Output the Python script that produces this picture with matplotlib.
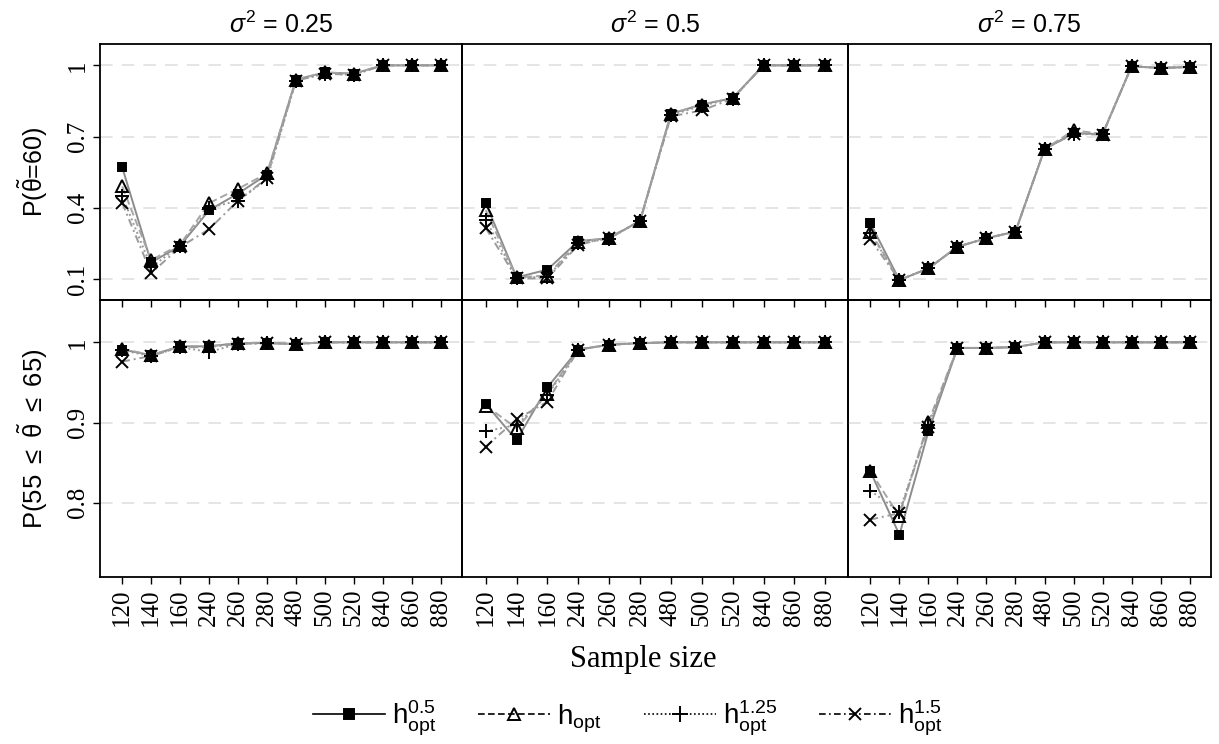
"""Coverage probabilities of the bandwidth estimators by sample size."""

import matplotlib
matplotlib.use("Agg")
import matplotlib.pyplot as plt
from matplotlib.lines import Line2D

plt.rcParams["mathtext.fontset"] = "custom"
plt.rcParams["mathtext.rm"] = "Liberation Sans"
plt.rcParams["mathtext.it"] = "Liberation Sans:italic"
plt.rcParams["mathtext.bf"] = "Liberation Sans:bold"

sample_sizes = ["120", "140", "160", "240", "260", "280",
                "480", "500", "520", "840", "860", "880"]
sigma_labels = ["0.25", "0.5", "0.75"]
series_labels = [r"$\mathrm{h}_{\mathrm{opt}}^{0.5}$", r"$\mathrm{h}_{\mathrm{opt}}$",
                 r"$\mathrm{h}_{\mathrm{opt}}^{1.25}$", r"$\mathrm{h}_{\mathrm{opt}}^{1.5}$"]

# P(theta = 60), rows: h^0.5, h, h^1.25, h^1.5
eq60_s025 = [
    [0.57, 0.17, 0.24, 0.39, 0.46, 0.54, 0.94, 0.97, 0.965, 1.0, 1.0, 1.0],
    [0.49, 0.18, 0.245, 0.42, 0.48, 0.545, 0.94, 0.97, 0.965, 1.0, 1.0, 1.0],
    [0.45, 0.15, 0.24, 0.40, 0.43, 0.52, 0.935, 0.965, 0.96, 1.0, 1.0, 1.0],
    [0.42, 0.125, 0.235, 0.31, 0.43, 0.525, 0.935, 0.965, 0.96, 1.0, 1.0, 1.0],
]
eq60_s05 = [
    [0.42, 0.107, 0.14, 0.26, 0.272, 0.345, 0.796, 0.835, 0.862, 1.0, 1.0, 1.0],
    [0.39, 0.107, 0.115, 0.258, 0.272, 0.345, 0.796, 0.835, 0.862, 1.0, 1.0, 1.0],
    [0.35, 0.105, 0.11, 0.25, 0.27, 0.345, 0.79, 0.83, 0.86, 1.0, 1.0, 1.0],
    [0.315, 0.103, 0.103, 0.244, 0.275, 0.345, 0.785, 0.81, 0.86, 1.0, 1.0, 1.0],
]
eq60_s075 = [
    [0.335, 0.096, 0.145, 0.236, 0.272, 0.30, 0.647, 0.715, 0.71, 0.996, 0.989, 0.993],
    [0.30, 0.096, 0.145, 0.236, 0.272, 0.30, 0.647, 0.726, 0.712, 0.996, 0.989, 0.993],
    [0.293, 0.096, 0.145, 0.236, 0.272, 0.30, 0.647, 0.712, 0.71, 0.996, 0.989, 0.993],
    [0.267, 0.096, 0.145, 0.236, 0.272, 0.30, 0.647, 0.712, 0.708, 0.996, 0.989, 0.993],
]

# P(55 <= theta <= 65)
rng_s025 = [
    [0.991, 0.984, 0.995, 0.995, 0.999, 0.999, 0.998, 1.0, 1.0, 1.0, 1.0, 1.0],
    [0.992, 0.984, 0.995, 0.995, 0.999, 0.999, 0.998, 1.0, 1.0, 1.0, 1.0, 1.0],
    [0.990, 0.983, 0.994, 0.988, 0.998, 0.999, 0.998, 1.0, 1.0, 1.0, 1.0, 1.0],
    [0.976, 0.983, 0.994, 0.994, 0.998, 0.999, 0.998, 1.0, 1.0, 1.0, 1.0, 1.0],
]
rng_s05 = [
    [0.923, 0.878, 0.944, 0.991, 0.997, 0.999, 1.0, 1.0, 1.0, 1.0, 1.0, 1.0],
    [0.921, 0.893, 0.936, 0.991, 0.997, 0.999, 1.0, 1.0, 1.0, 1.0, 1.0, 1.0],
    [0.889, 0.897, 0.934, 0.991, 0.997, 0.999, 1.0, 1.0, 1.0, 1.0, 1.0, 1.0],
    [0.870, 0.904, 0.926, 0.991, 0.997, 0.999, 1.0, 1.0, 1.0, 1.0, 1.0, 1.0],
]
rng_s075 = [
    [0.839, 0.760, 0.889, 0.993, 0.993, 0.994, 1.0, 1.0, 1.0, 1.0, 1.0, 1.0],
    [0.839, 0.783, 0.901, 0.993, 0.993, 0.994, 1.0, 1.0, 1.0, 1.0, 1.0, 1.0],
    [0.815, 0.789, 0.897, 0.993, 0.993, 0.994, 1.0, 1.0, 1.0, 1.0, 1.0, 1.0],
    [0.779, 0.787, 0.895, 0.993, 0.993, 0.994, 1.0, 1.0, 1.0, 1.0, 1.0, 1.0],
]

top_ticks = [0.1, 0.4, 0.7, 1.0]
top_tick_labels = ["0.1", "0.4", "0.7", "1"]
bottom_ticks = [0.8, 0.9, 1.0]
bottom_tick_labels = ["0.8", "0.9", "1"]

markers = ["s", "^", "+", "x"]
marker_fill = ["black", "none", "black", "black"]
marker_sizes = [6, 8, 10, 8]
line_styles = ["-", (0, (4, 2)), (0, (1, 1.5)), (0, (4, 2, 1, 2))]
line_colors = ["#8c8c8c", "#a6a6a6", "#9a9a9a", "#9a9a9a"]

SERIF = "Liberation Serif"
SANS = "Liberation Sans"

fig = plt.figure(figsize=(12.19, 7.44), dpi=100)

col_left = [0.0820, 0.3790, 0.6957]
col_width = [0.2970, 0.3167, 0.2978]
row_bottom = [0.5968, 0.2245]
row_height = [0.3441, 0.3723]

panels = [[eq60_s025, eq60_s05, eq60_s075], [rng_s025, rng_s05, rng_s075]]
ylims = [(0.012, 1.09), (0.7074, 1.0528)]
yticks = [top_ticks, bottom_ticks]
ytick_labels = [top_tick_labels, bottom_tick_labels]

xs = list(range(len(sample_sizes)))

for r in range(2):
    for c in range(3):
        ax = fig.add_axes([col_left[c], row_bottom[r], col_width[c], row_height[r]])
        ax.set_facecolor("none")
        if r == 0:
            ax.set_zorder(2)

        for y in yticks[r]:
            ax.axhline(y, color="#e3e3e3", lw=1.3, ls=(0, (7, 5)), zorder=0)

        for k, values in enumerate(panels[r][c]):
            ax.plot(xs, values, color=line_colors[k], ls=line_styles[k], lw=1.4, zorder=2)
            ax.plot(xs, values, ls="none", marker=markers[k], ms=marker_sizes[k],
                    mfc=marker_fill[k], mec="black", mew=1.4, zorder=3)

        ax.set_xlim(-0.77, 11.74)
        ax.set_ylim(*ylims[r])
        ax.set_xticks(xs)
        ax.set_yticks(yticks[r])
        ax.tick_params(direction="out", length=5, width=1.0, color="black")

        if r == 0:
            ax.set_xticklabels([])
            ax.set_title(r"$\sigma^2$ = " + sigma_labels[c], fontsize=18, family=SANS, pad=8)
        else:
            ax.set_xticklabels(sample_sizes, rotation=90, family=SERIF, fontsize=18)
            ax.tick_params(axis="x", pad=3)

        if c == 0:
            ax.set_yticklabels(ytick_labels[r], rotation=90, va="center",
                               family=SERIF, fontsize=18)
            ax.tick_params(axis="y", pad=3)
        else:
            ax.tick_params(axis="y", left=False, labelleft=False)

        for spine in ax.spines.values():
            spine.set_linewidth(1.3)

fig.text(0.027, 0.5968 + 0.3441 / 2, r"P($\mathrm{\tilde{\theta}}$=60)",
         rotation=90, ha="center", va="center", fontsize=18, family=SANS)
fig.text(0.027, 0.2245 + 0.3723 / 2, r"P(55 $\leq$ $\mathrm{\tilde{\theta}}$ $\leq$ 65)",
         rotation=90, ha="center", va="center", fontsize=18.5, family=SANS)
fig.text(0.528, 1 - 660 / 744, "Sample size", ha="center", va="center",
         fontsize=22, family=SERIF)

handles = [
    Line2D([], [], color="black", ls=line_styles[k], lw=1.2, marker=markers[k],
           ms=marker_sizes[k] + 1, mfc=marker_fill[k], mec="black", mew=1.4)
    for k in range(4)
]
fig.legend(handles, series_labels, loc="center", bbox_to_anchor=(0.515, 1 - 718 / 744),
           ncol=4, frameon=False, fontsize=20, handlelength=2.6, columnspacing=1.5,
           handletextpad=0.25)

fig.savefig("out.png", dpi=100)
